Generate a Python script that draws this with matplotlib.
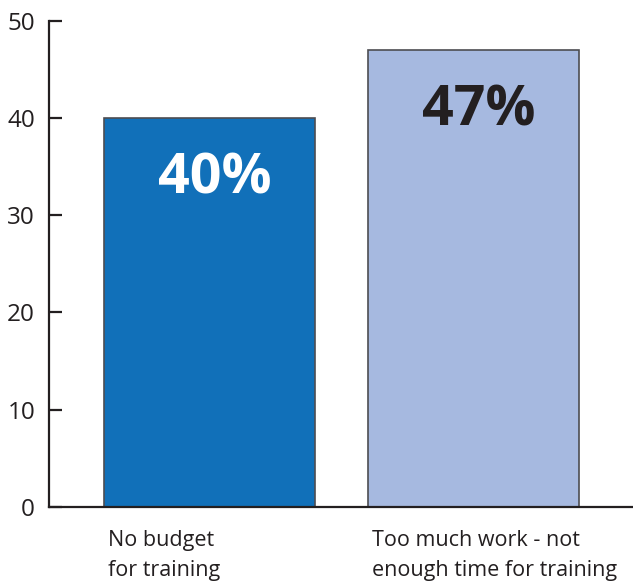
import matplotlib
matplotlib.use("Agg")
import matplotlib.pyplot as plt

categories = ["No budget\nfor training", "Too much work - not\nenough time for training"]
values = [40, 47]
value_labels = ["40%", "47%"]
bar_colors = ["#1170b9", "#a6b9e0"]
label_colors = ["#ffffff", "#231f20"]
y_ticks = [0, 10, 20, 30, 40, 50]

plt.rcParams["font.family"] = ["Open Sans", "DejaVu Sans"]
ink = "#231f20"

fig = plt.figure(figsize=(6.33, 5.82), dpi=100)
ax = fig.add_axes([0.0774, 0.1289, 0.9226, 0.8355])

positions = list(range(len(values)))
width = 0.8
ax.bar(positions, values, width=width, color=bar_colors,
       edgecolor="#4d4d52", linewidth=1.2, zorder=2)

for x, v, lab, c in zip(positions, values, value_labels, label_colors):
    ax.text(x + 0.02, v - 6.3, lab, ha="center", va="center",
            fontsize=40, fontweight="bold", color=c, zorder=3)

for x, cat in zip(positions, categories):
    ax.text(x - width / 2 + 0.015, -2.35, cat, ha="left", va="top",
            fontsize=15.5, color=ink, linespacing=1.6)

ax.set_xlim(-0.608, 1.604)
ax.set_ylim(0, 50)
ax.set_yticks(y_ticks)
ax.set_xticks([])
ax.tick_params(axis="y", direction="in", length=9.5, width=1.6,
               colors=ink, labelsize=17.5, pad=10)
for side in ("top", "right"):
    ax.spines[side].set_visible(False)
for side in ("left", "bottom"):
    ax.spines[side].set_color(ink)
    ax.spines[side].set_linewidth(1.6)

fig.savefig("out.png", dpi=100)
